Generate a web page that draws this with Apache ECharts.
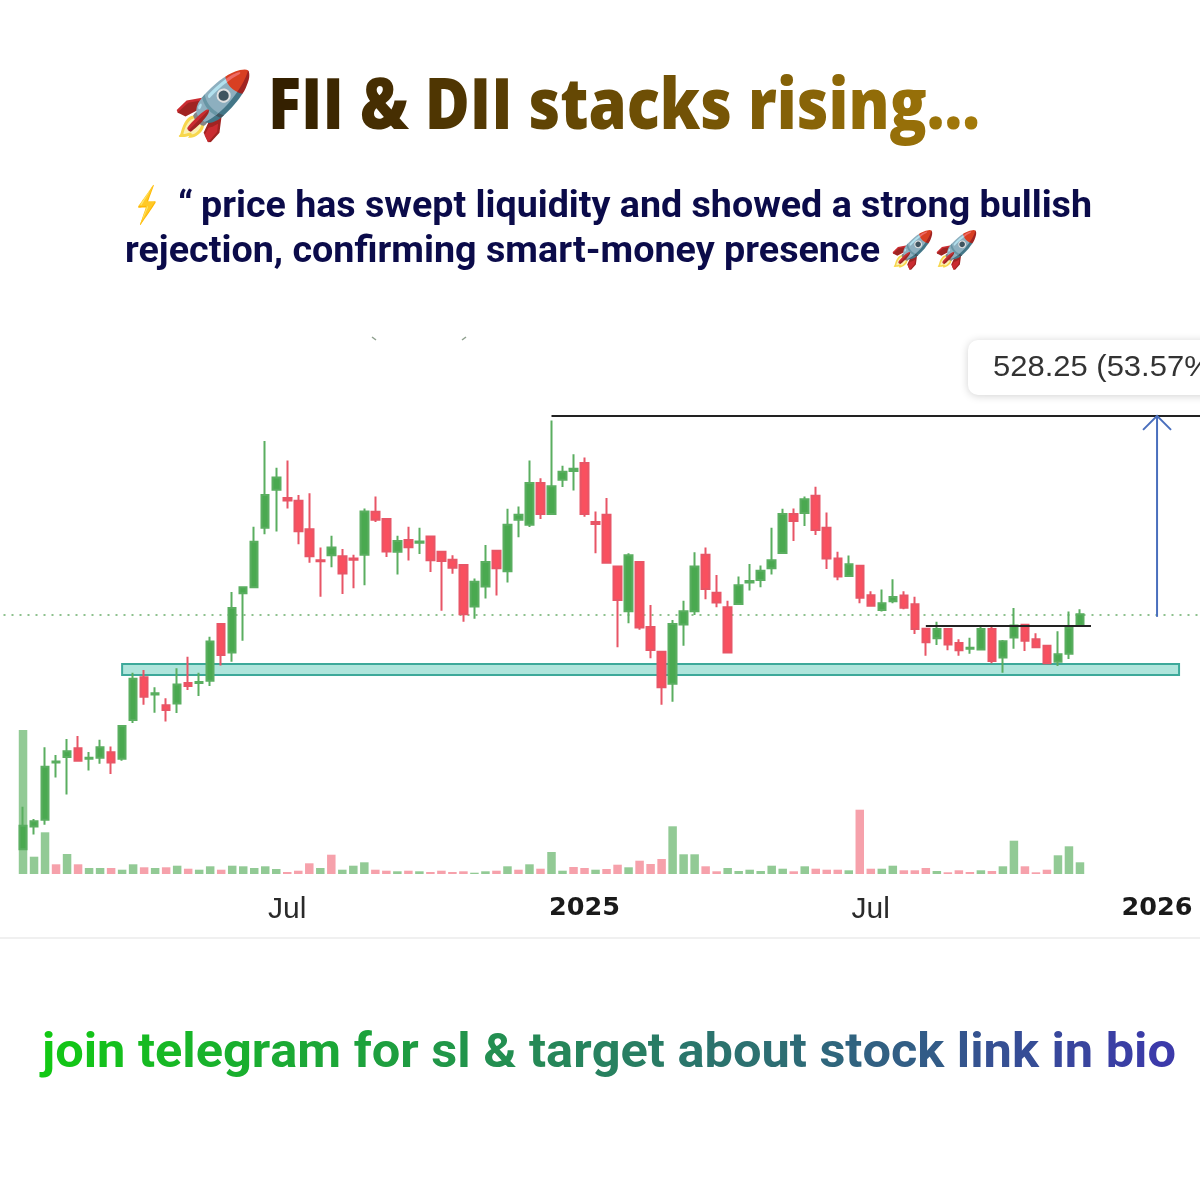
<!DOCTYPE html>
<html>
<head>
<meta charset="utf-8">
<title>FII & DII stacks rising</title>
<script src="https://cdn.jsdelivr.net/npm/echarts@6/dist/echarts.min.js"></script>
<style>
  html, body { margin: 0; padding: 0; background: #fff; }
  #chart { width: 1200px; height: 1200px; }
</style>
</head>
<body>
<div id="chart"></div>
<script>
// weekly candles
const opens = [370,430,448,598,613,636,608,611,625,608,
  710,822,777,749,753,807,807,813,962,887,
  1043,1059,1215,1315,1293,1286,1211,1130,1143,1140,
  1134,1144,1257,1238,1152,1183,1176,1192,1152,1131,
  1117,1008,1061,1155,1101,1236,1223,1333,1251,1341,
  1364,1385,1230,1249,1113,996,1125,954,889,805,
  961,996,1144,1044,1006,1015,1071,1078,1109,1149,
  1251,1254,1299,1215,1134,1088,1115,1038,999,1022,
  1037,1014,950,925,949,912,897,895,949,874,
  927,960,922,905,863,884,958];
const closes = [432,444,587,601,628,603,611,638,598,694,
  818,771,780,736,803,799,810,916,881,1004,
  1059,1178,1301,1347,1287,1206,1140,1127,1163,1095,
  1131,1258,1236,1153,1180,1164,1179,1130,1128,1110,
  988,1073,1125,1109,1223,1249,1333,1251,1324,1362,
  1370,1251,1225,1123,1025,1143,953,894,796,962,
  996,1113,1054,1019,887,1064,1075,1102,1130,1251,
  1233,1290,1209,1134,1087,1119,1031,1010,1017,1033,
  1005,949,914,949,908,893,900,949,865,917,
  958,918,901,859,883,952,988];
const highs = [482,450,638,618,660,668,626,658,640,694,
  834,841,796,767,846,876,834,929,962,1046,
  1059,1218,1443,1373,1392,1301,1306,1163,1194,1159,
  1144,1266,1297,1238,1194,1218,1215,1192,1152,1143,
  1117,1082,1170,1155,1265,1271,1392,1345,1497,1378,
  1408,1400,1258,1293,1113,1148,1128,1012,889,973,
  1023,1151,1163,1091,1023,1087,1120,1116,1215,1265,
  1266,1297,1323,1255,1152,1142,1115,1048,1053,1080,
  1048,1034,950,968,949,922,926,955,955,920,
  1004,960,938,905,943,995,1001];
const lows = [370,409,435,559,514,600,577,595,568,603,
  702,750,729,706,728,789,773,799,853,863,
  918,1059,1198,1205,1266,1172,1123,1034,1111,1041,
  1056,1064,1230,1138,1092,1129,1146,1099,997,1094,
  968,976,1029,1037,1071,1190,1217,1238,1251,1322,
  1313,1244,1148,1122,901,964,947,872,750,758,
  905,986,1027,1006,887,1015,1050,1059,1092,1149,
  1180,1220,1196,1107,1077,1088,1017,1010,995,1017,
  1001,936,879,907,893,879,884,895,859,834,
  897,891,899,859,852,870,958];
const volumes = [144,17.3,41.7,9.7,20,9.7,6,6,6,4.3,
  9.7,6.7,6,6.7,8.3,5.3,4.3,7.7,4.3,8.3,
  7.7,6,7.7,5,2,3.3,10.7,6,19.3,4.3,
  8.3,11.7,4.3,3.3,2.7,3.3,2.7,2,3.3,2,
  2.7,1.3,2.7,3.3,7.7,4.3,9.7,5.3,22,3.3,
  7,6,4.3,5,9.3,6.7,13.3,10,15,47.7,
  19.7,19.7,7.7,2.7,6,3,4.3,3,8.3,5.3,
  2.7,7.7,5.3,4.3,4.3,3.7,64.3,5.3,5.3,8.3,
  3.7,3.7,6,3,1.7,3.7,2,3.7,3,7.7,
  33.3,7.7,1.7,4.3,18.7,27.7,11.7];
// 1 = green volume bar, 0 = red volume bar
const volumeUp = [1,1,1,0,1,0,1,1,0,1,
  1,0,1,0,1,0,1,1,0,1,
  1,1,1,1,0,0,0,1,0,1,
  1,1,0,0,1,0,1,0,0,0,
  0,1,1,0,1,0,1,0,1,1,
  0,0,1,0,0,1,0,0,0,1,
  1,1,0,0,1,1,1,1,1,1,
  0,1,0,0,0,1,0,0,1,1,
  0,0,0,1,0,0,0,1,0,1,
  1,0,0,0,1,1,1];

const tickWeeks = [24, 51, 77, 103];
const tickLabels = ['Jul', '2025', 'Jul', '2026'];

const lastPrice = 986;
const swingHigh = 1509;
const zoneLow = 828;
const zoneHigh = 857;
const rangeTop = 958;
const arrowWeek = 103;

// two empty weeks in front and some behind so the chart runs off the picture
const PAD = 2;
const TOTAL = 111;
const categories = [];
for (let i = 0; i < TOTAL; i++) {
  const t = tickWeeks.indexOf(i - PAD);
  categories.push(t >= 0 ? tickLabels[t] : '');
}
const candleData = [];
const volumeData = [];
for (let i = 0; i < PAD; i++) {
  candleData.push(['-', '-', '-', '-']);
  volumeData.push('-');
}
opens.forEach(function (o, i) {
  candleData.push([o, closes[i], lows[i], highs[i]]);
  volumeData.push(volumes[i]);
});

// ---- headline helpers ----
const measureCtx = document.createElement('canvas').getContext('2d');

function mix(a, b, t) {
  const c = [0, 1, 2].map(function (k) { return Math.round(a[k] + (b[k] - a[k]) * t); });
  return 'rgb(' + c.join(',') + ')';
}

// one rich style per character, that's how the colour fades along the line
function fadeText(text, x, y, width, font, from, to) {
  const rich = {};
  let str = '';
  let w = 0;
  measureCtx.font = font.fontWeight + ' ' + font.fontSize + 'px "' + font.fontFamily + '"';
  for (let i = 0; i < text.length; i++) {
    const ch = text[i];
    w += measureCtx.measureText(ch).width;
    if (ch === ' ') { str += ' '; continue; }
    rich['c' + i] = {
      fontFamily: font.fontFamily, fontSize: font.fontSize, fontWeight: font.fontWeight,
      fill: mix(from, to, i / (text.length - 1))
    };
    str += '{c' + i + '|' + ch + '}';
  }
  return {
    type: 'text', x: x, y: y, scaleX: width / w, z: 20,
    style: {
      text: str, rich: rich, textVerticalAlign: 'middle',
      fontFamily: font.fontFamily, fontSize: font.fontSize, fontWeight: font.fontWeight
    }
  };
}

function plainText(text, x, y, width, font, color) {
  measureCtx.font = font.fontWeight + ' ' + font.fontSize + 'px "' + font.fontFamily + '"';
  const w = measureCtx.measureText(text).width;
  return {
    type: 'text', x: x, y: y, scaleX: width ? width / w : 1, z: 20,
    style: {
      text: text, fill: color, textVerticalAlign: 'middle',
      fontFamily: font.fontFamily, fontSize: font.fontSize, fontWeight: font.fontWeight
    }
  };
}

const headFont = { fontFamily: 'Open Sans', fontSize: 70, fontWeight: 800 };
const subFont = { fontFamily: 'Roboto', fontSize: 36, fontWeight: 700 };
const footFont = { fontFamily: 'Roboto', fontSize: 48, fontWeight: 700 };

const graphics = [
  plainText('🚀', 172, 109, 0, { fontFamily: 'Noto Color Emoji', fontSize: 66, fontWeight: 400 }, '#d33'),
  fadeText('FII & DII stacks rising...', 268, 109, 712, headFont, [52, 32, 0], [163, 122, 10]),
  plainText('⚡', 134, 206, 26, { fontFamily: 'Noto Color Emoji', fontSize: 36, fontWeight: 400 }, '#f0a020'),
  plainText('“', 178, 208, 15, subFont, '#0b0b4a'),
  plainText('price has swept liquidity and showed a strong bullish', 201, 208, 891, subFont, '#0b0b4a'),
  plainText('rejection, confirming smart-money presence', 125, 253, 755, subFont, '#0b0b4a'),
  plainText('🚀🚀', 890, 251, 0, { fontFamily: 'Noto Color Emoji', fontSize: 36, fontWeight: 400 }, '#d33'),
  {
    type: 'rect', z: 15,
    shape: { x: 968, y: 340, width: 260, height: 55, r: 10 },
    style: { fill: '#fff', shadowBlur: 8, shadowColor: 'rgba(0,0,0,0.18)', shadowOffsetY: 1 }
  },
  plainText('528.25 (53.57%)', 993, 368, 229, { fontFamily: 'Liberation Sans', fontSize: 29, fontWeight: 400 }, '#333'),
  { type: 'line', z: 1, shape: { x1: 0, y1: 938, x2: 1200, y2: 938 }, style: { stroke: '#f0f0f0', lineWidth: 2 } },
  // two specks left over above the chart
  { type: 'line', z: 1, shape: { x1: 372, y1: 337, x2: 376, y2: 340 }, style: { stroke: '#8fa08f', lineWidth: 1.5 } },
  { type: 'line', z: 1, shape: { x1: 462, y1: 340, x2: 466, y2: 337 }, style: { stroke: '#8fa08f', lineWidth: 1.5 } },
  fadeText('join telegram for sl & target about stock link in bio', 42, 1055, 1134, footFont, [18, 200, 20], [60, 58, 170])
];

const chart = echarts.init(document.getElementById('chart'));
chart.setOption({
  backgroundColor: '#fff',
  animation: false,
  graphic: graphics,
  grid: [
    { left: -4.5, top: 328, width: 1222.1, height: 548, outerBoundsMode: 'none' },
    { left: -4.5, top: 730, width: 1222.1, height: 144, outerBoundsMode: 'none' }
  ],
  xAxis: [
    {
      type: 'category', gridIndex: 0, data: categories,
      axisLine: { show: false }, axisTick: { show: false }, axisLabel: { show: false }, splitLine: { show: false }
    },
    {
      type: 'category', gridIndex: 1, data: categories,
      axisLine: { show: false }, axisTick: { show: false }, splitLine: { show: false },
      axisLabel: {
        interval: 0, margin: 21, color: '#222', fontFamily: 'Liberation Sans',
        formatter: function (v) {
          if (!v) return '';
          return v === 'Jul' ? '{m|' + v + '}' : '{y|' + v + '}';
        },
        rich: {
          m: { fontSize: 30, fontFamily: 'Liberation Sans', color: '#2a2a2a' },
          y: { fontSize: 25.5, fontWeight: 700, fontFamily: 'DejaVu Sans', color: '#1a1a1a' }
        }
      }
    }
  ],
  yAxis: [
    { type: 'value', gridIndex: 0, min: 300, max: 1740, show: false, splitLine: { show: false } },
    { type: 'value', gridIndex: 1, min: 0, max: 144, show: false, splitLine: { show: false } }
  ],
  series: [
    {
      name: 'Volume', type: 'bar', xAxisIndex: 1, yAxisIndex: 1, z: 1,
      barWidth: 8.5,
      data: volumeData,
      itemStyle: {
        color: function (p) { return volumeUp[p.dataIndex - PAD] ? '#8cc78f' : '#f59ca7'; },
        opacity: 0.95
      }
    },
    {
      name: 'Price', type: 'candlestick', xAxisIndex: 0, yAxisIndex: 0, z: 3,
      barWidth: 8,
      data: candleData,
      itemStyle: {
        color: '#4aa950', color0: '#f9505f',
        borderColor: '#5aae60', borderColor0: '#e85566', borderWidth: 2
      },
      markArea: {
        silent: true,
        itemStyle: { color: 'rgba(122,212,196,0.6)', borderColor: '#3da99a', borderWidth: 2 },
        data: [[{ xAxis: PAD + 9, yAxis: zoneHigh }, { xAxis: PAD + 105, yAxis: zoneLow }]]
      },
      markLine: {
        silent: true, symbol: 'none', z: 6,
        label: { show: false },
        lineStyle: { color: '#222', width: 2, type: 'solid' },
        data: [
          [{ xAxis: PAD + 48, yAxis: swingHigh }, { xAxis: TOTAL - 1, yAxis: swingHigh }],
          [{ xAxis: PAD + 82, yAxis: rangeTop }, { xAxis: PAD + 97, yAxis: rangeTop }]
        ]
      }
    },
    {
      name: 'Last', type: 'line', xAxisIndex: 0, yAxisIndex: 0, z: 1, data: [],
      markLine: {
        silent: true, symbol: 'none', z: 1,
        label: { show: false },
        lineStyle: { color: '#69ad69', width: 1.5, type: [2, 6] },
        data: [{ yAxis: lastPrice }]
      }
    },
    {
      name: 'Move', type: 'custom', xAxisIndex: 0, yAxisIndex: 0, z: 7,
      data: [[PAD + arrowWeek, lastPrice - 5, swingHigh]],
      renderItem: function (params, api) {
        const a = api.coord([api.value(0), api.value(1)]);
        const b = api.coord([api.value(0), api.value(2)]);
        const style = { stroke: '#4a6fbd', lineWidth: 2, fill: null };
        return {
          type: 'group',
          children: [
            { type: 'line', shape: { x1: a[0], y1: a[1], x2: b[0], y2: b[1] }, style: style },
            { type: 'polyline', shape: { points: [[b[0] - 14, b[1] + 14], b, [b[0] + 14, b[1] + 14]] }, style: style }
          ]
        };
      }
    }
  ]
});
</script>
</body>
</html>
